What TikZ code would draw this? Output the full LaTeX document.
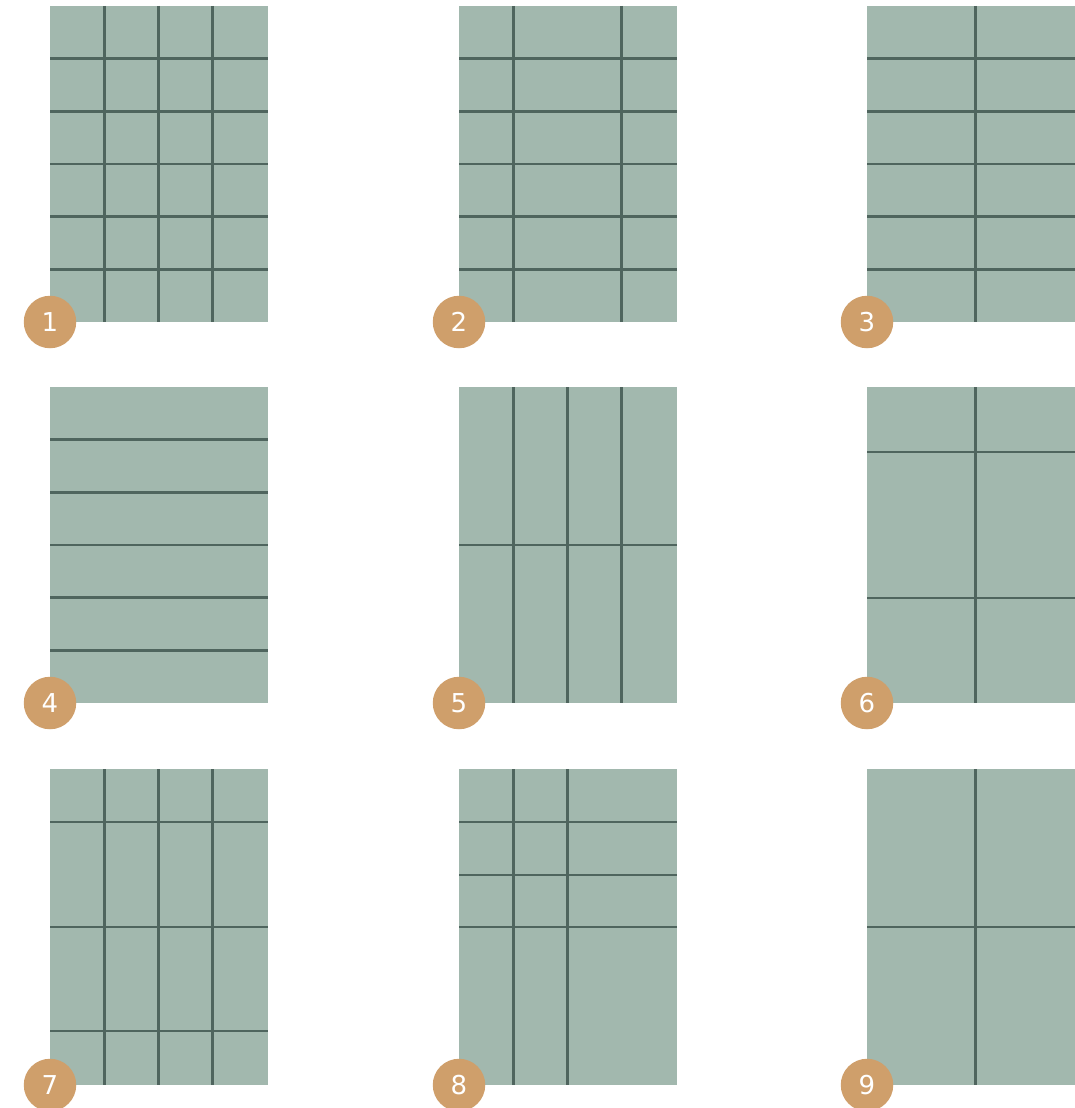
\documentclass[tikz,border=0pt]{standalone}
\usepackage{fontspec}
\setmainfont{DejaVu Sans}
\definecolor{sage}{HTML}{A2B8AE}
\definecolor{slate}{HTML}{4F655E}
\definecolor{tan}{HTML}{CF9F6B}
\tikzset{
  panel/.style={fill=sage},
  rule/.style={draw=slate, line width=2.6pt},
  badge/.style={circle, fill=tan, minimum size=52.5pt, inner sep=0pt,
    text=white, font=\fontsize{26}{26}\selectfont}
}
\begin{document}
\begin{tikzpicture}[x=1pt, y=-1pt]
  \useasboundingbox (0,0) rectangle (1075,1108);
  \clip (0,0) rectangle (1075,1108);
  % fila de arriba
  \begin{scope}[shift={(50,6)}]
    \fill[panel] (0,0) rectangle (217.5,316);
    \foreach \x in {54.25,108.5,162.75} \draw[rule] (\x,0) -- (\x,316);
    \foreach \y in {52.67,105.33,158,210.67,263.33} \draw[rule] (0,\y) -- (217.5,\y);
    \node[badge] (b1) at (0,316) {1};
  \end{scope}
  \begin{scope}[shift={(459,6)}]
    \fill[panel] (0,0) rectangle (217.5,316);
    \foreach \x in {54.25,162.75} \draw[rule] (\x,0) -- (\x,316);
    \foreach \y in {52.67,105.33,158,210.67,263.33} \draw[rule] (0,\y) -- (217.5,\y);
    \node[badge] (b2) at (0,316) {2};
  \end{scope}
  \begin{scope}[shift={(867,6)}]
    \fill[panel] (0,0) rectangle (217.5,316);
    \draw[rule] (108.75,0) -- (108.75,316);
    \foreach \y in {52.67,105.33,158,210.67,263.33} \draw[rule] (0,\y) -- (217.5,\y);
    \node[badge] (b3) at (0,316) {3};
  \end{scope}
  % fila del medio
  \begin{scope}[shift={(50,387)}]
    \fill[panel] (0,0) rectangle (217.5,316);
    \foreach \y in {52.67,105.33,158,210.67,263.33} \draw[rule] (0,\y) -- (217.5,\y);
    \node[badge] (b4) at (0,316) {4};
  \end{scope}
  \begin{scope}[shift={(459,387)}]
    \fill[panel] (0,0) rectangle (217.5,316);
    \foreach \x in {54.25,108.5,162.75} \draw[rule] (\x,0) -- (\x,316);
    \draw[rule] (0,158) -- (217.5,158);
    \node[badge] (b5) at (0,316) {5};
  \end{scope}
  \begin{scope}[shift={(867,387)}]
    \fill[panel] (0,0) rectangle (217.5,316);
    \draw[rule] (108.75,0) -- (108.75,316);
    \foreach \y in {65,211} \draw[rule] (0,\y) -- (217.5,\y);
    \node[badge] (b6) at (0,316) {6};
  \end{scope}
  % fila de abajo
  \begin{scope}[shift={(50,769)}]
    \fill[panel] (0,0) rectangle (217.5,316);
    \foreach \x in {54.25,108.5,162.75} \draw[rule] (\x,0) -- (\x,316);
    \foreach \y in {53,158,262} \draw[rule] (0,\y) -- (217.5,\y);
    \node[badge] (b7) at (0,316) {7};
  \end{scope}
  \begin{scope}[shift={(459,769)}]
    \fill[panel] (0,0) rectangle (217.5,316);
    \foreach \x in {54.25,108.5} \draw[rule] (\x,0) -- (\x,316);
    \foreach \y in {53,106,158} \draw[rule] (0,\y) -- (217.5,\y);
    \node[badge] (b8) at (0,316) {8};
  \end{scope}
  \begin{scope}[shift={(867,769)}]
    \fill[panel] (0,0) rectangle (217.5,316);
    \draw[rule] (108.75,0) -- (108.75,316);
    \draw[rule] (0,158) -- (217.5,158);
    \node[badge] (b9) at (0,316) {9};
  \end{scope}
\end{tikzpicture}
\end{document}
